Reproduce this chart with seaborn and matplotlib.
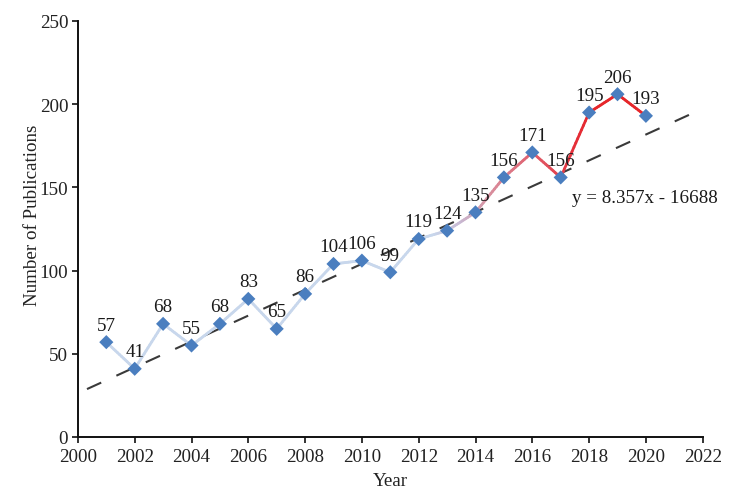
import numpy as np
import pandas as pd
import matplotlib
matplotlib.use("Agg")
import matplotlib.pyplot as plt
import seaborn as sns
from matplotlib.collections import LineCollection
from matplotlib.colors import LinearSegmentedColormap

# ---- data ----
years = [2001, 2002, 2003, 2004, 2005, 2006, 2007, 2008, 2009, 2010,
         2011, 2012, 2013, 2014, 2015, 2016, 2017, 2018, 2019, 2020]
pubs = [57, 41, 68, 55, 68, 83, 65, 86, 104, 106,
        99, 119, 124, 135, 156, 171, 156, 195, 206, 193]
trend_x = [2000.32, 2021.83]
trend_y = [28.8, 196.0]
equation = "y = 8.357x - 16688"
x_ticks = list(range(2000, 2023, 2))
y_ticks = [0, 50, 100, 150, 200, 250]

sns.set_style("ticks")
plt.rcParams["font.family"] = ["Liberation Serif", "DejaVu Serif"]
FS = 13.7

fig = plt.figure(figsize=(7.5, 5.02), dpi=100)
ax = fig.add_axes([77.9 / 750, 64 / 502, (702.7 - 77.9) / 750, 416 / 502])

df = pd.DataFrame({"Year": years, "Pubs": pubs})

# trend line
sns.lineplot(x=trend_x, y=trend_y, ax=ax, color="#3a3a3a", lw=1.5,
             zorder=2).lines[-1].set_dashes((7.5, 8))

# gradient line (light blue -> red)
y0, y1 = years[0], years[-1]
stops = [(2001, "#c8d7ec"), (2012.5, "#c8d7ec"), (2013.5, "#c8b9d3"),
         (2014.5, "#d8909f"), (2016.0, "#e0616f"), (2017.5, "#e5303a"),
         (2018.2, "#e6262a"), (2020, "#e6262a")]
cmap = LinearSegmentedColormap.from_list(
    "grad", [((s - y0) / (y1 - y0), c) for s, c in stops])
segs, cols = [], []
xa, ya = np.array(years, float), np.array(pubs, float)
for i in range(len(xa) - 1):
    t = np.linspace(0, 1, 16)
    xs = xa[i] + t * (xa[i + 1] - xa[i])
    ys = ya[i] + t * (ya[i + 1] - ya[i])
    for j in range(len(t) - 1):
        segs.append([(xs[j], ys[j]), (xs[j + 1], ys[j + 1])])
        cols.append(cmap(((xs[j] + xs[j + 1]) / 2 - y0) / (y1 - y0)))
lc = LineCollection(segs, colors=cols, linewidths=2.0, zorder=3,
                    capstyle="round")
ax.add_collection(lc)

# markers
sns.scatterplot(data=df, x="Year", y="Pubs", ax=ax, marker="D", s=52,
                color="#4a7ebf", edgecolor="none", zorder=4)

# value labels
for x, v in zip(years, pubs):
    ax.annotate(str(v), (x, v), xytext=(0, 9), textcoords="offset points",
                ha="center", va="baseline", fontsize=FS, color="#1a1a1a",
                zorder=5)

ax.text(2017.39, 144, equation, ha="left", va="center", fontsize=FS,
        color="#1a1a1a")

ax.set_xlim(2000, 2022)
ax.set_ylim(0, 250)
ax.set_xticks(x_ticks)
ax.set_yticks(y_ticks)
ax.tick_params(axis="both", direction="out", length=4, width=1.2,
               labelsize=FS, labelcolor="#222222", color="#111111", pad=3)
ax.tick_params(axis="x", pad=4)
for s in ["top", "right"]:
    ax.spines[s].set_visible(False)
for s in ["left", "bottom"]:
    ax.spines[s].set_linewidth(1.4)
    ax.spines[s].set_color("#111111")
ax.set_xlabel("Year", fontsize=FS, color="#222222", labelpad=5)
ax.set_ylabel("Number of Publications", fontsize=FS, color="#222222")
ax.yaxis.label.set_va("center")
ax.yaxis.set_label_coords(-0.072, 0.536)

fig.savefig("out.png", dpi=100)
